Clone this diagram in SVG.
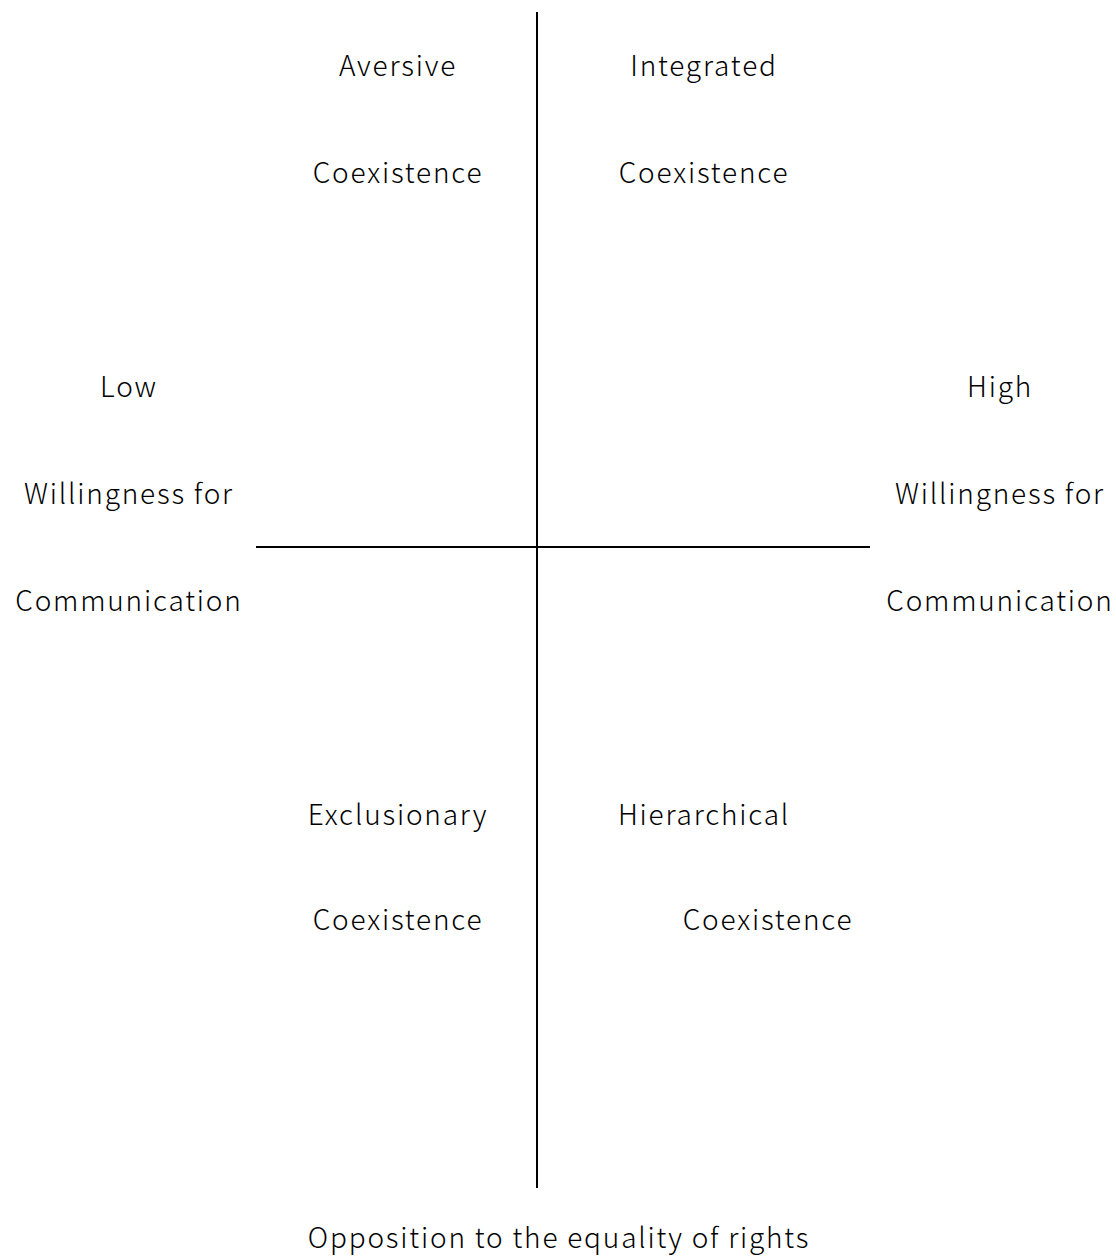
<svg xmlns="http://www.w3.org/2000/svg" width="1116" height="1258" viewBox="0 0 1116 1258">
<style>
text{font-family:"Noto Sans CJK JP","Noto Sans",sans-serif;font-size:28px;font-weight:300;letter-spacing:1.8px;fill:#000;text-anchor:middle}
.axis{stroke:#000;stroke-width:2;fill:none}
</style>
<rect width="1116" height="1258" fill="#fff"/>
<g id="connectors">
<line class="axis" x1="537" y1="12" x2="537" y2="1188"/>
<line class="axis" x1="256" y1="547" x2="870" y2="547"/>
</g>
<g id="aversive"><text x="398" y="76">Aversive</text><text x="398" y="183">Coexistence</text></g>
<g id="integrated"><text x="704" y="76">Integrated</text><text x="704" y="183">Coexistence</text></g>
<g id="low"><text x="129" y="397">Low</text><text x="129" y="504">Willingness for</text><text x="129" y="611">Communication</text></g>
<g id="high"><text x="1000" y="397">High</text><text x="1000" y="504">Willingness for</text><text x="1000" y="611">Communication</text></g>
<g id="exclusionary"><text x="398" y="825">Exclusionary</text><text x="398" y="930">Coexistence</text></g>
<g id="hierarchical"><text x="704" y="825">Hierarchical</text><text x="768" y="930">Coexistence</text></g>
<g id="yaxis-label"><text x="559" y="1248">Opposition to the equality of rights</text></g>
</svg>
